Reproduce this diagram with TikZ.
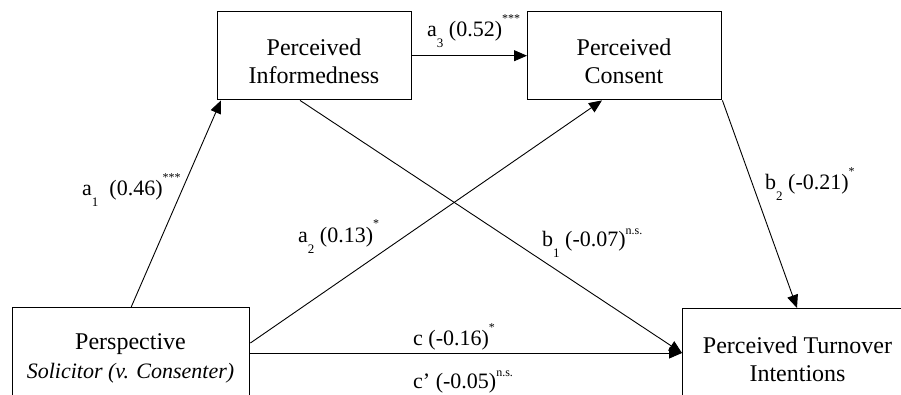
\documentclass[tikz,border=0pt]{standalone}
\usepackage{fontspec}
\setmainfont{Liberation Serif}
\usetikzlibrary{arrows.meta,calc}
\newcommand{\mysubs}[1]{\raisebox{-11pt}{\fontsize{13}{13}\selectfont #1}}
\newcommand{\mystars}[1]{\raisebox{14pt}{\fontsize{12}{12}\selectfont #1}}
\newcommand{\myns}{\raisebox{12pt}{\fontsize{12}{12}\selectfont n.s.}}
\begin{document}
\begin{tikzpicture}[x=1pt,y=-1pt,
  box/.style={draw=black, line width=1.4pt, anchor=north west, inner sep=0pt},
  boxtxt/.style={font=\fontsize{24}{28}\selectfont, anchor=base, inner sep=0pt},
  lab/.style={font=\fontsize{22}{26}\selectfont, anchor=base west, inner sep=0pt},
  arr/.style={line width=0.9pt, -{Triangle[length=13pt,width=11pt]}}]
\useasboundingbox (0,0) rectangle (901,395);
\fill[white] (0,0) rectangle (901,395);
\clip (0,0) rectangle (901,395);
% boxes
\node[box, minimum width=194pt, minimum height=88pt] (pi) at (217,11) {};
\node[box, minimum width=194pt, minimum height=88pt] (pc) at (527,11) {};
\node[box, minimum width=237pt, minimum height=106pt] (persp) at (12,307) {};
\node[box, minimum width=231pt, minimum height=106pt] (pti) at (682,308) {};
% box texts
\node[boxtxt] (pit1) at (314,56) {Perceived};
\node[boxtxt] (pit2) at (314,84) {Informedness};
\node[boxtxt] (pct1) at (624,56) {Perceived};
\node[boxtxt] (pct2) at (624,84) {Consent};
\node[boxtxt] (pst1) at (130.5,349) {Perspective};
\node[boxtxt, font=\fontsize{22}{26}\selectfont\itshape] (pst2) at (130.5,378) {Solicitor (v. Consenter)};
\node[boxtxt] (ptt1) at (797.5,353) {Perceived Turnover};
\node[boxtxt] (ptt2) at (797.5,381) {Intentions};
% connectors
\coordinate (a2s) at ($(persp.north east)+(0,36)$);
\coordinate (cs) at ($(persp.north east)+(0,46)$);
\coordinate (ptin) at ($(pti.north west)+(0,45)$);
\draw[arr] (persp.north) -- ($(pi.south west)+(4,0)$);
\draw[arr] (pi.east) -- (pc.west);
\draw[arr] (a2s) -- ($(pc.south west)+(75,0)$);
\draw[arr] ($(pi.south west)+(83,0)$) -- (ptin);
\draw[arr] (pc.south east) -- ($(pti.north west)+(115,0)$);
\draw[arr] (cs) -- (ptin);
% labels
\node[lab] (la3) at (427,37) {a\mysubs{3} (0.52)\mystars{***}};
\node[lab] (la1) at (82,196) {a\mysubs{1}\ \ (0.46)\mystars{***}};
\node[lab] (la2) at (298,242) {a\mysubs{2} (0.13)\mystars{*}};
\node[lab] (lb1) at (542,247) {b\mysubs{1} (-0.07)\myns};
\node[lab] (lb2) at (765,190) {b\mysubs{2} (-0.21)\mystars{*}};
\node[lab] (lc) at (413,345) {c (-0.16)\mystars{*}};
\node[lab] (lcp) at (413,388) {c’ (-0.05)\myns};
\end{tikzpicture}
\end{document}
